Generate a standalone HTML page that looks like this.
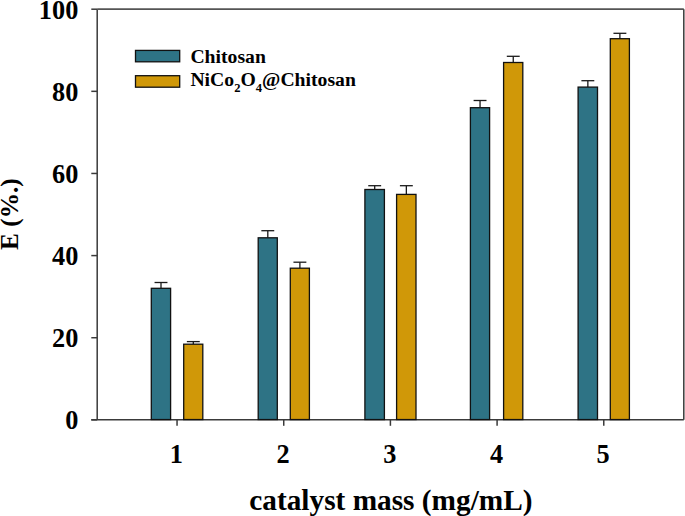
<!DOCTYPE html>
<html><head><meta charset="utf-8"><style>
html,body{margin:0;padding:0;background:#fff;}
svg{display:block;}
text{font-family:"Liberation Serif",serif;font-weight:bold;fill:#000;}
.t26{font-size:26.3px;}
.yt{font-size:25.3px;}
.xt{font-size:29.3px;}
.lg{font-size:19.7px;}
.sub{font-size:12.6px;}
</style></head><body>
<svg width="685" height="516" viewBox="0 0 685 516">
<path d="M97.2 419.85 V9.2" fill="none" stroke="#3a3a3a" stroke-width="1.5"/>
<path d="M97.2 9.2 H683.8" fill="none" stroke="#555" stroke-width="1.7"/>
<path d="M683.8 9.2 V419.85" fill="none" stroke="#3a3a3a" stroke-width="1.5"/>
<path d="M91.3 419.85 H683.8" fill="none" stroke="#3a3a3a" stroke-width="1.5"/>
<line x1="161.00" y1="288.30" x2="161.00" y2="282.50" stroke="#1a1a1a" stroke-width="1.3"/>
<line x1="154.55" y1="282.50" x2="167.45" y2="282.50" stroke="#1a1a1a" stroke-width="1.3"/>
<rect x="151.30" y="288.30" width="19.30" height="131.25" fill="#2e7385" stroke="#111" stroke-width="1.3"/>
<line x1="193.30" y1="344.20" x2="193.30" y2="341.60" stroke="#1a1a1a" stroke-width="1.3"/>
<line x1="186.85" y1="341.60" x2="199.75" y2="341.60" stroke="#1a1a1a" stroke-width="1.3"/>
<rect x="183.70" y="344.20" width="19.10" height="75.35" fill="#d09808" stroke="#111" stroke-width="1.3"/>
<line x1="267.80" y1="237.80" x2="267.80" y2="230.70" stroke="#1a1a1a" stroke-width="1.3"/>
<line x1="261.35" y1="230.70" x2="274.25" y2="230.70" stroke="#1a1a1a" stroke-width="1.3"/>
<rect x="258.20" y="237.80" width="19.10" height="181.75" fill="#2e7385" stroke="#111" stroke-width="1.3"/>
<line x1="299.90" y1="268.20" x2="299.90" y2="262.20" stroke="#1a1a1a" stroke-width="1.3"/>
<line x1="293.45" y1="262.20" x2="306.35" y2="262.20" stroke="#1a1a1a" stroke-width="1.3"/>
<rect x="290.30" y="268.20" width="19.10" height="151.35" fill="#d09808" stroke="#111" stroke-width="1.3"/>
<line x1="374.70" y1="189.50" x2="374.70" y2="185.70" stroke="#1a1a1a" stroke-width="1.3"/>
<line x1="368.25" y1="185.70" x2="381.15" y2="185.70" stroke="#1a1a1a" stroke-width="1.3"/>
<rect x="364.90" y="189.50" width="19.50" height="230.05" fill="#2e7385" stroke="#111" stroke-width="1.3"/>
<line x1="406.35" y1="194.40" x2="406.35" y2="185.70" stroke="#1a1a1a" stroke-width="1.3"/>
<line x1="399.90" y1="185.70" x2="412.80" y2="185.70" stroke="#1a1a1a" stroke-width="1.3"/>
<rect x="396.60" y="194.40" width="19.40" height="225.15" fill="#d09808" stroke="#111" stroke-width="1.3"/>
<line x1="480.05" y1="107.70" x2="480.05" y2="100.50" stroke="#1a1a1a" stroke-width="1.3"/>
<line x1="473.60" y1="100.50" x2="486.50" y2="100.50" stroke="#1a1a1a" stroke-width="1.3"/>
<rect x="470.40" y="107.70" width="19.20" height="311.85" fill="#2e7385" stroke="#111" stroke-width="1.3"/>
<line x1="513.25" y1="62.50" x2="513.25" y2="56.30" stroke="#1a1a1a" stroke-width="1.3"/>
<line x1="506.80" y1="56.30" x2="519.70" y2="56.30" stroke="#1a1a1a" stroke-width="1.3"/>
<rect x="503.60" y="62.50" width="19.20" height="357.05" fill="#d09808" stroke="#111" stroke-width="1.3"/>
<line x1="587.85" y1="87.10" x2="587.85" y2="80.70" stroke="#1a1a1a" stroke-width="1.3"/>
<line x1="581.40" y1="80.70" x2="594.30" y2="80.70" stroke="#1a1a1a" stroke-width="1.3"/>
<rect x="578.10" y="87.10" width="19.40" height="332.45" fill="#2e7385" stroke="#111" stroke-width="1.3"/>
<line x1="619.90" y1="38.70" x2="619.90" y2="33.30" stroke="#1a1a1a" stroke-width="1.3"/>
<line x1="613.45" y1="33.30" x2="626.35" y2="33.30" stroke="#1a1a1a" stroke-width="1.3"/>
<rect x="610.30" y="38.70" width="19.10" height="380.85" fill="#d09808" stroke="#111" stroke-width="1.3"/>
<line x1="91.3" y1="419.85" x2="97.2" y2="419.85" stroke="#3a3a3a" stroke-width="1.5"/>
<line x1="91.3" y1="337.72" x2="97.2" y2="337.72" stroke="#3a3a3a" stroke-width="1.5"/>
<line x1="91.3" y1="255.59" x2="97.2" y2="255.59" stroke="#3a3a3a" stroke-width="1.5"/>
<line x1="91.3" y1="173.46" x2="97.2" y2="173.46" stroke="#3a3a3a" stroke-width="1.5"/>
<line x1="91.3" y1="91.33" x2="97.2" y2="91.33" stroke="#3a3a3a" stroke-width="1.5"/>
<line x1="91.3" y1="9.20" x2="97.2" y2="9.20" stroke="#3a3a3a" stroke-width="1.5"/>
<line x1="177.05" y1="419.85" x2="177.05" y2="425.8" stroke="#3a3a3a" stroke-width="1.5"/>
<line x1="283.73" y1="419.85" x2="283.73" y2="425.8" stroke="#3a3a3a" stroke-width="1.5"/>
<line x1="390.41" y1="419.85" x2="390.41" y2="425.8" stroke="#3a3a3a" stroke-width="1.5"/>
<line x1="497.09" y1="419.85" x2="497.09" y2="425.8" stroke="#3a3a3a" stroke-width="1.5"/>
<line x1="603.77" y1="419.85" x2="603.77" y2="425.8" stroke="#3a3a3a" stroke-width="1.5"/>
<text x="78.3" y="429.15" text-anchor="end" class="t26">0</text>
<text x="78.3" y="347.02" text-anchor="end" class="t26">20</text>
<text x="78.3" y="264.89" text-anchor="end" class="t26">40</text>
<text x="78.3" y="182.76" text-anchor="end" class="t26">60</text>
<text x="78.3" y="100.63" text-anchor="end" class="t26">80</text>
<text x="78.3" y="18.50" text-anchor="end" class="t26">100</text>
<text x="176.45" y="462.7" text-anchor="middle" class="t26">1</text>
<text x="283.13" y="462.7" text-anchor="middle" class="t26">2</text>
<text x="389.81" y="462.7" text-anchor="middle" class="t26">3</text>
<text x="496.49" y="462.7" text-anchor="middle" class="t26">4</text>
<text x="603.17" y="462.7" text-anchor="middle" class="t26">5</text>
<text transform="translate(18.4,214.1) rotate(-90)" text-anchor="middle" class="yt">E (%.)</text>
<text x="390.9" y="510.0" text-anchor="middle" class="xt">catalyst mass (mg/mL)</text>
<rect x="135.5" y="50.4" width="44.2" height="11.4" fill="#2e7385" stroke="#111" stroke-width="1.3"/>
<rect x="135.5" y="75.7" width="44.2" height="11.5" fill="#d09808" stroke="#111" stroke-width="1.3"/>
<text x="190.4" y="62.8" class="lg">Chitosan</text>
<text x="190.4" y="85.9" class="lg">NiCo<tspan class="sub" dy="6.2">2</tspan><tspan dy="-6.2">O</tspan><tspan class="sub" dy="6.2">4</tspan><tspan dy="-6.2">@Chitosan</tspan></text>
</svg>
</body></html>
